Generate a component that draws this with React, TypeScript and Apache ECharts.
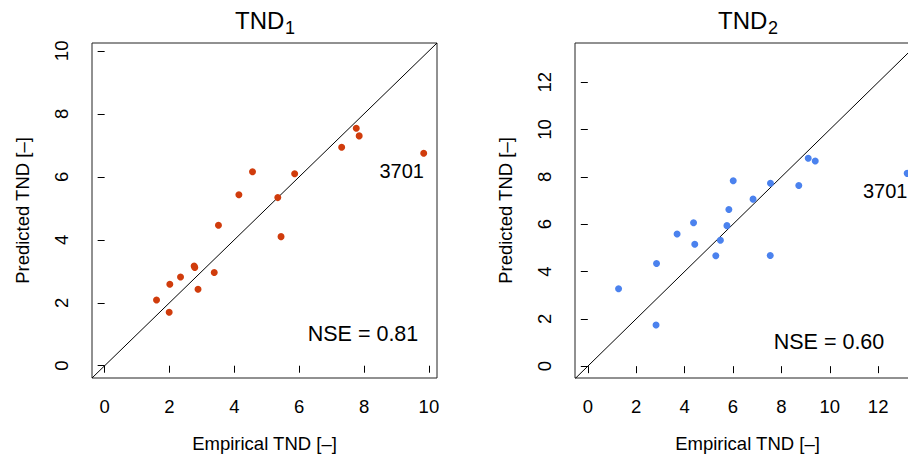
import React, { useEffect, useRef } from "react";
import * as echarts from "echarts";

// ---- data ----
const tnd1Empirical = [1.60, 1.99, 2.01, 2.34, 2.76, 2.78, 2.88, 3.38, 3.51, 4.14, 4.56, 5.34, 5.44, 5.86, 7.31, 7.76, 7.85, 9.84];
const tnd1Predicted = [2.09, 1.70, 2.59, 2.82, 3.17, 3.12, 2.43, 2.96, 4.46, 5.43, 6.16, 5.34, 4.10, 6.10, 6.94, 7.54, 7.30, 6.75];
const tnd2Empirical = [1.27, 2.82, 2.84, 3.69, 4.37, 4.42, 5.29, 5.48, 5.75, 5.83, 6.01, 6.83, 7.55, 7.54, 8.72, 9.11, 9.40, 13.20];
const tnd2Predicted = [3.27, 1.74, 4.34, 5.59, 6.06, 5.15, 4.67, 5.32, 5.94, 6.62, 7.84, 7.06, 7.73, 4.68, 7.64, 8.79, 8.67, 8.15];
const outlierLabel = "3701";
const tnd1Ticks = [0, 2, 4, 6, 8, 10];
const tnd2Ticks = [0, 2, 4, 6, 8, 10, 12];
const tnd1Lim = [-0.39, 10.25];
const tnd2LimX = [-0.53, 13.73];
const tnd2LimY = [-0.5, 13.66];
const nse1 = "NSE = 0.81";
const nse2 = "NSE = 0.60";
const xTitle = "Empirical TND [–]";
const yTitle = "Predicted TND [–]";

const FONT = "'Liberation Sans', Arial, Helvetica, sans-serif";
const RED = "#D03C0C";
const BLUE = "#4B82EE";

function pts(xs: number[], ys: number[]) {
  return xs.map((x, i) => {
    const item: any = { value: [x, ys[i]] };
    if (i === xs.length - 1) {
      item.label = {
        show: true,
        formatter: outlierLabel,
        position: "inside",
        offset: [-22, 18],
        fontSize: 20,
        color: "#000",
        fontFamily: FONT,
      };
    }
    return item;
  });
}

function xAxis(idx: number, lim: number[], ticks: number[]) {
  return {
    type: "value",
    gridIndex: idx,
    min: lim[0],
    max: lim[1],
    axisLine: { show: false },
    splitLine: { show: false },
    axisTick: { show: true, inside: false, length: 7, customValues: ticks, lineStyle: { color: "#000", width: 1 } },
    axisLabel: { customValues: ticks, margin: 19, fontSize: 18.5, color: "#000", fontFamily: FONT },
    name: xTitle,
    nameLocation: "middle",
    nameGap: 56,
    nameTextStyle: { fontSize: 18.5, color: "#000", fontFamily: FONT },
  };
}

function yAxis(idx: number, lim: number[], ticks: number[]) {
  return {
    type: "value",
    gridIndex: idx,
    min: lim[0],
    max: lim[1],
    axisLine: { show: false },
    splitLine: { show: false },
    axisTick: { show: true, inside: false, length: 7, customValues: ticks, lineStyle: { color: "#000", width: 1 } },
    axisLabel: { customValues: ticks, rotate: 90, margin: 21, fontSize: 18.5, color: "#000", fontFamily: FONT },
    name: yTitle,
    nameLocation: "middle",
    nameGap: 60,
    nameTextStyle: { fontSize: 18.5, color: "#000", fontFamily: FONT },
  };
}

export default function App() {
  const ref = useRef<HTMLDivElement>(null);
  useEffect(() => {
    if (!ref.current) return;
    const chart = echarts.init(ref.current, undefined, { renderer: "svg" });
    const lo2 = Math.min(tnd2LimX[0], tnd2LimY[0]);
    const hi2 = Math.max(tnd2LimX[1], tnd2LimY[1]);
    const grids = [
      { left: 92, top: 43, width: 345, height: 335 },
      { left: 575, top: 43, width: 345, height: 335 },
    ];
    const option: any = {
      animation: false,
      backgroundColor: "#fff",
      grid: grids.map((g) => ({ ...g, show: true, borderColor: "#222", borderWidth: 1, backgroundColor: "transparent" })),
      xAxis: [xAxis(0, tnd1Lim, tnd1Ticks), xAxis(1, tnd2LimX, tnd2Ticks)],
      yAxis: [yAxis(0, tnd1Lim, tnd1Ticks), yAxis(1, tnd2LimY, tnd2Ticks)],
      series: [
        {
          type: "line",
          xAxisIndex: 0,
          yAxisIndex: 0,
          data: [[tnd1Lim[0], tnd1Lim[0]], [tnd1Lim[1], tnd1Lim[1]]],
          symbol: "none",
          clip: true,
          lineStyle: { color: "#000", width: 1 },
          z: 1,
        },
        {
          type: "scatter",
          xAxisIndex: 0,
          yAxisIndex: 0,
          data: pts(tnd1Empirical, tnd1Predicted),
          symbolSize: 7,
          itemStyle: { color: RED, opacity: 1 },
          z: 2,
        },
        {
          type: "line",
          xAxisIndex: 1,
          yAxisIndex: 1,
          data: [[lo2, lo2], [hi2, hi2]],
          symbol: "none",
          clip: true,
          lineStyle: { color: "#000", width: 1 },
          z: 1,
        },
        {
          type: "scatter",
          xAxisIndex: 1,
          yAxisIndex: 1,
          data: pts(tnd2Empirical, tnd2Predicted),
          symbolSize: 7,
          itemStyle: { color: BLUE, opacity: 1 },
          z: 2,
        },
      ],
      graphic: [
        { type: "text", x: 284.3, y: 20, style: { text: "TND", fontSize: 24, align: "right", verticalAlign: "middle", fill: "#000", fontFamily: FONT } },
        { type: "text", x: 285, y: 28, style: { text: "1", fontSize: 18, align: "left", verticalAlign: "middle", fill: "#000", fontFamily: FONT } },
        { type: "text", x: 767.3, y: 20, style: { text: "TND", fontSize: 24, align: "right", verticalAlign: "middle", fill: "#000", fontFamily: FONT } },
        { type: "text", x: 768, y: 28, style: { text: "2", fontSize: 18, align: "left", verticalAlign: "middle", fill: "#000", fontFamily: FONT } },
        { type: "text", x: 363, y: 334, style: { text: nse1, fontSize: 21.5, align: "center", verticalAlign: "middle", fill: "#000", fontFamily: FONT } },
        { type: "text", x: 829, y: 342, style: { text: nse2, fontSize: 21.5, align: "center", verticalAlign: "middle", fill: "#000", fontFamily: FONT } },
      ],
    };
    chart.setOption(option);
    return () => chart.dispose();
  }, []);
  return (
    <div
      ref={ref}
      style={{ position: "fixed", left: 0, top: 0, width: 930, height: 459, background: "#fff" }}
    />
  );
}
